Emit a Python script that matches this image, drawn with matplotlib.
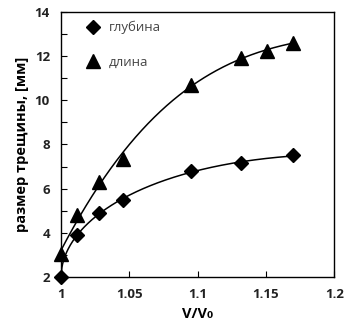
import numpy as np
import matplotlib
matplotlib.use("Agg")
import matplotlib.pyplot as plt

x_depth = [1.0, 1.012, 1.028, 1.045, 1.095, 1.132, 1.17]
depth = [2.0, 3.9, 4.9, 5.5, 6.8, 7.15, 7.5]
x_len = [1.0, 1.012, 1.028, 1.045, 1.095, 1.132, 1.151, 1.17]
length = [3.05, 4.8, 6.3, 7.35, 10.7, 11.9, 12.25, 12.6]

plt.rcParams['font.family'] = ['Open Sans', 'DejaVu Sans']

fig = plt.figure(figsize=(3.47, 3.29), dpi=100)
ax = fig.add_axes([0.176, 0.158, 0.787, 0.806])

xs = np.linspace(1.0, 1.17, 300)
# trend for depth: y = y0 + a*s + b*s^2 + c*s^3, s = sqrt(x - 1), anchored at first point
sd = np.sqrt(np.array(x_depth) - 1.0)
A = np.vstack([sd, sd**2, sd**3]).T
coef, *_ = np.linalg.lstsq(A, np.array(depth) - depth[0], rcond=None)
ss = np.sqrt(xs - 1.0)
yd = depth[0] + coef[0]*ss + coef[1]*ss**2 + coef[2]*ss**3
pl_ = np.polyfit(x_len, length, 3)
ax.plot(xs, yd, color='black', lw=1.1)
ax.plot(xs, np.polyval(pl_, xs), color='black', lw=1.1)

ax.plot(x_depth, depth, 'D', color='black', ms=7, label='глубина', clip_on=False, zorder=5)
ax.plot(x_len, length, '^', color='black', ms=10, label='длина', clip_on=False, zorder=5)

ax.set_xlim(1.0, 1.2)
ax.set_ylim(2, 14)
ax.set_xticks([1.0, 1.05, 1.1, 1.15, 1.2])
ax.set_xticklabels(['1', '1.05', '1.1', '1.15', '1.2'])
ax.set_yticks([2, 4, 6, 8, 10, 12, 14])
ax.set_yticks(np.arange(2, 15, 1), minor=True)
ax.tick_params(axis='both', which='both', direction='in', labelsize=9.5, width=0.8)
ax.tick_params(axis='both', which='major', length=4)
ax.tick_params(axis='y', which='minor', length=4)
for lab in ax.get_xticklabels() + ax.get_yticklabels():
    lab.set_fontweight('bold')
    lab.set_color('#222222')
ax.tick_params(axis='x', pad=8)
ax.tick_params(axis='y', pad=8)
for s in ax.spines.values():
    s.set_linewidth(1.0)

ax.set_xlabel('V/V₀', fontsize=10.5, fontweight='bold', labelpad=4)
ax.set_ylabel('размер трещины, [мм]', fontsize=10.5, fontweight='bold', labelpad=4)

leg = ax.legend(loc='upper left', frameon=False, fontsize=9.5, handletextpad=0.7,
                labelspacing=1.6, bbox_to_anchor=(0.04, 1.02), handlelength=1.0,
                borderpad=0.6)
for t in leg.get_texts():
    t.set_color('#444444')

fig.savefig('out.png', dpi=100)
